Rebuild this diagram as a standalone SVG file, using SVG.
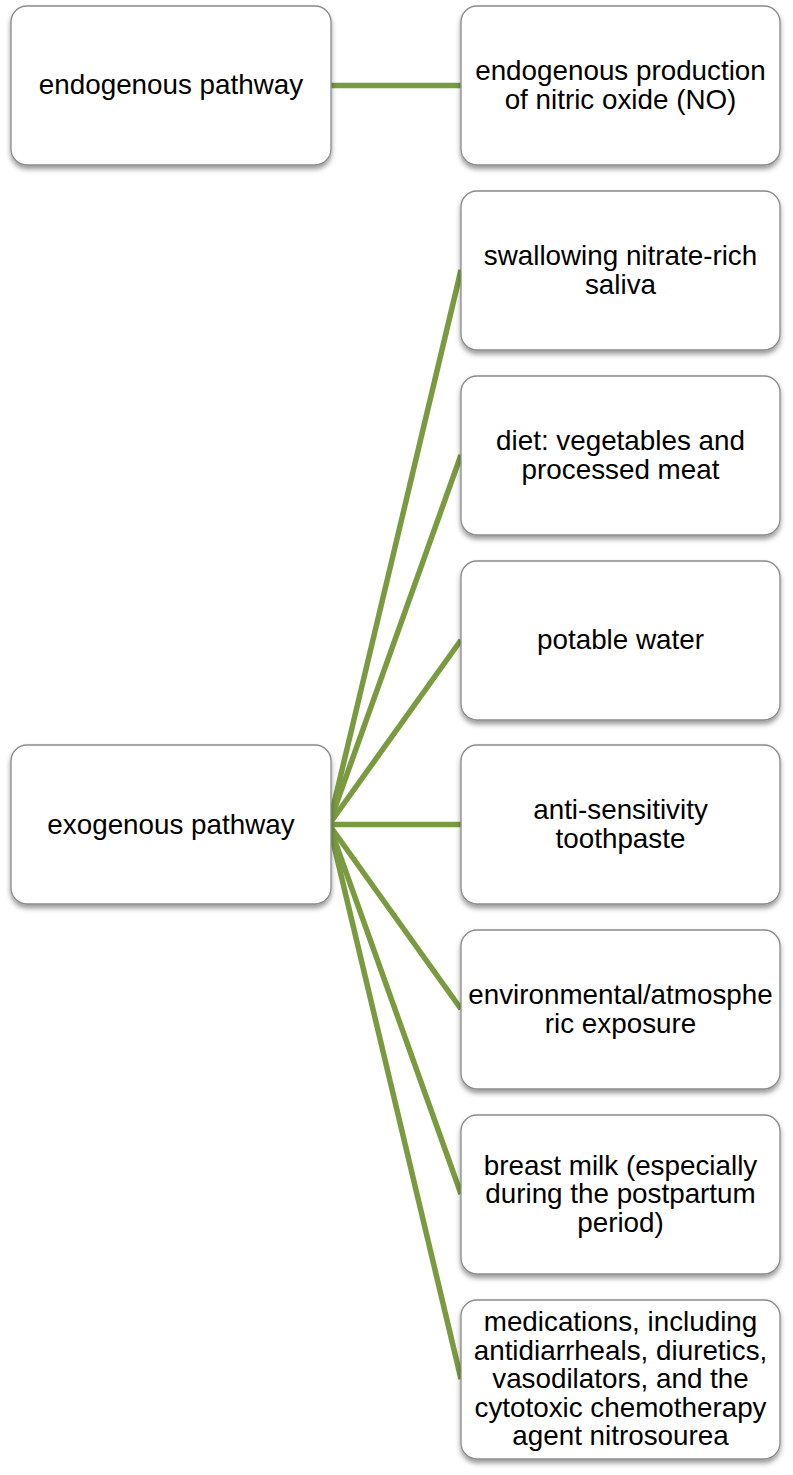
<svg xmlns="http://www.w3.org/2000/svg" width="793" height="1475" viewBox="0 0 793 1475">
<defs>
<filter id="sh" x="-10%" y="-10%" width="120%" height="130%">
<feDropShadow dx="0" dy="3.5" stdDeviation="2.5" flood-color="#000" flood-opacity="0.4"/>
</filter>
</defs>
<style>
.box{fill:#fff;stroke:#8a8a8a;stroke-width:1.3;filter:url(#sh)}
.t{font-family:"Liberation Sans",Arial,sans-serif;font-size:27.8px;fill:#000;text-anchor:middle}
.c{stroke:#7a9a40;stroke-width:5.5;fill:none}
</style>
<rect width="793" height="1475" fill="#fff"/>
<g id="connectors">
<line class="c" x1="331" y1="85.5" x2="461" y2="85.5"/>
<line class="c" x1="329" y1="824.5" x2="461" y2="270"/>
<line class="c" x1="329" y1="824.5" x2="461" y2="455"/>
<line class="c" x1="329" y1="824.5" x2="461" y2="640"/>
<line class="c" x1="329" y1="824.5" x2="461" y2="824.5"/>
<line class="c" x1="329" y1="824.5" x2="461" y2="1009"/>
<line class="c" x1="329" y1="824.5" x2="461" y2="1194"/>
<line class="c" x1="329" y1="824.5" x2="461" y2="1379"/>
</g>
<g id="endogenous">
<rect class="box" x="11" y="6" width="320" height="159" rx="16"/>
<text class="t" x="171" y="94">endogenous pathway</text>
</g>
<g id="endo-no">
<rect class="box" x="461" y="6" width="319" height="159" rx="16"/>
<text class="t" x="620.5" y="80">endogenous production</text>
<text class="t" x="620.5" y="108.5">of nitric oxide (NO)</text>
</g>
<g id="exogenous">
<rect class="box" x="11" y="745" width="320" height="159" rx="16"/>
<text class="t" x="171" y="833.5">exogenous pathway</text>
</g>
<g id="saliva">
<rect class="box" x="461" y="191" width="319" height="159" rx="16"/>
<text class="t" x="620.5" y="265">swallowing nitrate-rich</text>
<text class="t" x="620.5" y="293.5">saliva</text>
</g>
<g id="diet">
<rect class="box" x="461" y="376" width="319" height="159" rx="16"/>
<text class="t" x="620.5" y="450">diet: vegetables and</text>
<text class="t" x="620.5" y="478.5">processed meat</text>
</g>
<g id="water">
<rect class="box" x="461" y="561" width="319" height="159" rx="16"/>
<text class="t" x="620.5" y="649">potable water</text>
</g>
<g id="toothpaste">
<rect class="box" x="461" y="745" width="319" height="159" rx="16"/>
<text class="t" x="620.5" y="819">anti-sensitivity</text>
<text class="t" x="620.5" y="847.5">toothpaste</text>
</g>
<g id="environment">
<rect class="box" x="461" y="930" width="319" height="159" rx="16"/>
<text class="t" x="620.5" y="1004">environmental/atmosphe</text>
<text class="t" x="620.5" y="1032.5">ric exposure</text>
</g>
<g id="milk">
<rect class="box" x="461" y="1115" width="319" height="159" rx="16"/>
<text class="t" x="620.5" y="1174.5">breast milk (especially</text>
<text class="t" x="620.5" y="1203">during the postpartum</text>
<text class="t" x="620.5" y="1231.5">period)</text>
</g>
<g id="medications">
<rect class="box" x="461" y="1300" width="319" height="159" rx="16"/>
<text class="t" x="620.5" y="1331">medications, including</text>
<text class="t" x="620.5" y="1359.5">antidiarrheals, diuretics,</text>
<text class="t" x="620.5" y="1388">vasodilators, and the</text>
<text class="t" x="620.5" y="1416.5">cytotoxic chemotherapy</text>
<text class="t" x="620.5" y="1445">agent nitrosourea</text>
</g>
</svg>
